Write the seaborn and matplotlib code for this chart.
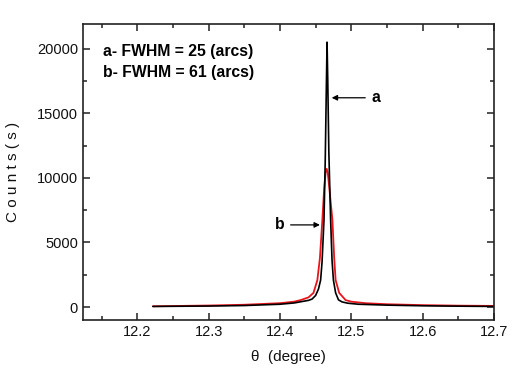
import numpy as np
import pandas as pd
import matplotlib
matplotlib.use('Agg')
import matplotlib.pyplot as plt
import seaborn as sns
from matplotlib.ticker import MultipleLocator

# values
theta_a = [12.222, 12.30, 12.35, 12.40, 12.42, 12.43, 12.44, 12.445, 12.45, 12.454,
           12.457, 12.459, 12.4617, 12.4635, 12.465, 12.466, 12.467, 12.4685, 12.471,
           12.473, 12.4749, 12.478, 12.482, 12.487, 12.495, 12.51, 12.55, 12.60,
           12.65, 12.70]
counts_a = [50, 80, 120, 220, 320, 420, 520, 620, 900, 1400,
            2090, 3500, 6740, 11500, 17000, 20500, 17500, 12000, 6740,
            3600, 2090, 1100, 560, 400, 300, 220, 150, 100,
            70, 50]

theta_b = [12.222, 12.30, 12.35, 12.40, 12.42, 12.429, 12.44, 12.447, 12.4524, 12.456,
           12.4594, 12.462, 12.464, 12.4655, 12.467, 12.469, 12.4735, 12.476, 12.478,
           12.483, 12.492, 12.50, 12.52, 12.55, 12.60, 12.65, 12.70]
counts_b = [60, 120, 180, 300, 420, 540, 750, 1100, 2090, 3800,
            6740, 9200, 10400, 10700, 10400, 9300, 6740, 3800, 2090,
            1100, 540, 420, 300, 220, 150, 110, 90]

df_a = pd.DataFrame({'theta': theta_a, 'counts': counts_a})
df_b = pd.DataFrame({'theta': theta_b, 'counts': counts_b})

sns.set_style('ticks')
plt.rcParams['font.family'] = ['Liberation Sans', 'DejaVu Sans']
plt.rcParams['text.color'] = 'black'

fig = plt.figure(figsize=(5.12, 3.83), dpi=100)
ax = fig.add_axes([0.162, 0.1645, 0.803, 0.7725])

sns.lineplot(data=df_b, x='theta', y='counts', color='#e8141b', lw=1.3, ax=ax)
sns.lineplot(data=df_a, x='theta', y='counts', color='black', lw=1.2, ax=ax)

ax.set_xlim(12.124, 12.7)
ax.set_ylim(-1000, 21900)
ax.xaxis.set_minor_locator(MultipleLocator(0.05))
ax.yaxis.set_major_locator(MultipleLocator(5000))
ax.yaxis.set_minor_locator(MultipleLocator(2500))
ax.set_xticks([12.2, 12.3, 12.4, 12.5, 12.6, 12.7])
ax.set_xticklabels(['12.2', '12.3', '12.4', '12.5', '12.6', '12.7'])
ax.tick_params(which='both', direction='in', top=True, right=True,
               labelsize=10.5, width=1.1, color='#222222', labelcolor='#111111')
ax.tick_params(which='major', length=5)
ax.tick_params(which='minor', length=3)
for s in ax.spines.values():
    s.set_linewidth(1.2)
    s.set_color('#222222')

ax.set_xlabel('\u03b8  (degree)', fontsize=11, color='#111111', labelpad=8)
ax.set_ylabel('C o u n t s ( s )', fontsize=11, color='#111111', labelpad=12)

ax.text(0.049, 0.909, 'a- FWHM = 25 (arcs)', transform=ax.transAxes,
        fontsize=11.3, fontweight='bold', va='center', ha='left')
ax.text(0.049, 0.838, 'b- FWHM = 61 (arcs)', transform=ax.transAxes,
        fontsize=11.3, fontweight='bold', va='center', ha='left')

ax.annotate('a', xy=(12.4725, 16200), xytext=(12.528, 16200),
            fontsize=11.3, fontweight='bold', va='center', ha='left',
            arrowprops=dict(arrowstyle='-|>', color='black', lw=0.9,
                            mutation_scale=8, shrinkA=2, shrinkB=0))
ax.annotate('b', xy=(12.456, 6360), xytext=(12.393, 6360),
            fontsize=11.3, fontweight='bold', va='center', ha='left',
            arrowprops=dict(arrowstyle='-|>', color='black', lw=0.9,
                            mutation_scale=8, shrinkA=2, shrinkB=0))

fig.savefig('out.png', dpi=100)
